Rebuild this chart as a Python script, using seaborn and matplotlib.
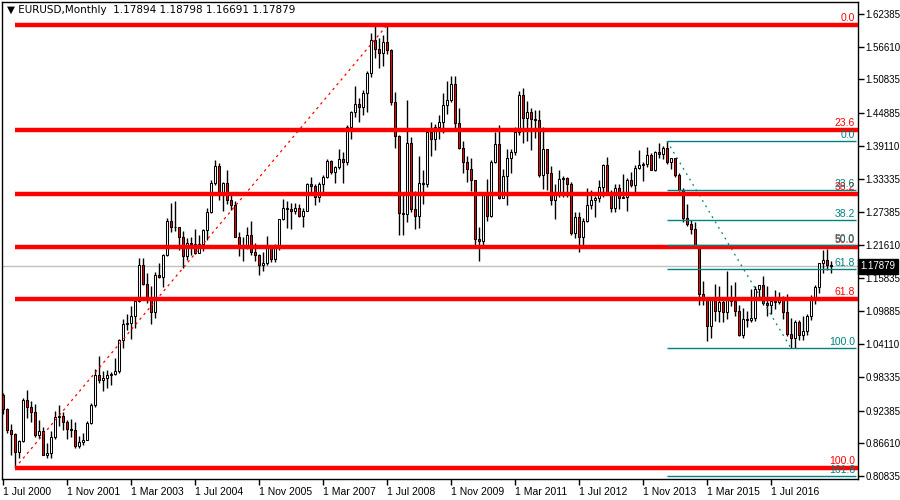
import matplotlib
matplotlib.use("Agg")
import matplotlib.pyplot as plt
import pandas as pd
import seaborn as sns

sns.set_theme(style="white")
plt.rcParams['font.family'] = ['Liberation Sans', 'DejaVu Sans']

# EURUSD monthly candles, Jul 2000 .. Oct 2017
opens = [
    0.9520, 0.9268, 0.8890, 0.8827, 0.8500, 0.8705,
    0.9420, 0.9310, 0.9210, 0.8800, 0.8870, 0.8460, 0.8490, 0.8770, 0.9120, 0.9140, 0.9030, 0.8910,
    0.8900, 0.8610, 0.8680, 0.8720, 0.9020, 0.9340, 0.9870, 0.9780, 0.9820, 0.9870, 0.9890, 0.9930,
    1.0490, 1.0760, 1.0780, 1.0910, 1.1180, 1.1800, 1.1480, 1.1230, 1.0980, 1.1640, 1.1600, 1.1990,
    1.2590, 1.2470, 1.2470, 1.2300, 1.1970, 1.2200, 1.2180, 1.2020, 1.2180, 1.2430, 1.2750, 1.3260,
    1.3560, 1.3040, 1.3250, 1.2960, 1.2870, 1.2300, 1.2100, 1.2130, 1.2340, 1.2030, 1.1990, 1.1800,
    1.1840, 1.2160, 1.1920, 1.2120, 1.2620, 1.2810, 1.2790, 1.2760, 1.2810, 1.2680, 1.2760, 1.3240,
    1.3200, 1.3010, 1.3230, 1.3360, 1.3650, 1.3450, 1.3540, 1.3680, 1.3630, 1.4250, 1.4500, 1.4650,
    1.4590, 1.4850, 1.5190, 1.5780, 1.5620, 1.5550, 1.5750, 1.5600, 1.4680, 1.4090, 1.2730, 1.2700,
    1.3970, 1.2800, 1.2680, 1.3250, 1.3230, 1.4150, 1.4030, 1.4250, 1.4330, 1.4640, 1.4720, 1.5000,
    1.4320, 1.3870, 1.3630, 1.3510, 1.3300, 1.2270, 1.2240, 1.3050, 1.2680, 1.3630, 1.3940, 1.2990,
    1.3380, 1.3690, 1.3800, 1.4160, 1.4810, 1.4400, 1.4500, 1.4390, 1.4370, 1.3390, 1.3860, 1.3440,
    1.2960, 1.3080, 1.3320, 1.3340, 1.3240, 1.2370, 1.2660, 1.2300, 1.2580, 1.2860, 1.2960, 1.2990,
    1.3190, 1.3580, 1.3050, 1.2820, 1.3170, 1.2990, 1.3010, 1.3300, 1.3220, 1.3520, 1.3580, 1.3590,
    1.3750, 1.3490, 1.3800, 1.3770, 1.3870, 1.3630, 1.3690, 1.3390, 1.3130, 1.2630, 1.2530, 1.2450,
    1.2100, 1.1290, 1.1200, 1.0730, 1.1220, 1.0990, 1.1150, 1.0980, 1.1210, 1.1180, 1.1000, 1.0570,
    1.0860, 1.0830, 1.0870, 1.1380, 1.1450, 1.1130, 1.1100, 1.1170, 1.1160, 1.1240, 1.0980, 1.0590,
    1.0520, 1.0800, 1.0580, 1.0650, 1.0900, 1.1240, 1.1420, 1.1840, 1.1900, 1.1789,
]
highs = [
    0.9545, 0.9290, 0.9000, 0.8850, 0.8725, 0.9460,
    0.9595, 0.9400, 0.9360, 0.9080, 0.8940, 0.8670, 0.8870, 0.9240, 0.9330, 0.9220, 0.9080, 0.9090,
    0.9040, 0.8790, 0.8850, 0.9050, 0.9380, 0.9970, 1.0210, 0.9930, 0.9960, 0.9920, 1.0160, 1.0500,
    1.0860, 1.0940, 1.1080, 1.1230, 1.1930, 1.1930, 1.1660, 1.1440, 1.1680, 1.1840, 1.2000, 1.2640,
    1.2900, 1.2930, 1.2480, 1.2410, 1.2280, 1.2310, 1.2450, 1.2340, 1.2440, 1.2810, 1.3300, 1.3670,
    1.3600, 1.3280, 1.3480, 1.3090, 1.2940, 1.2390, 1.2300, 1.2480, 1.2580, 1.2200, 1.2010, 1.2040,
    1.2320, 1.2160, 1.2170, 1.2620, 1.2980, 1.2940, 1.2900, 1.2910, 1.2890, 1.2810, 1.3250, 1.3370,
    1.3230, 1.3270, 1.3390, 1.3680, 1.3660, 1.3550, 1.3850, 1.3810, 1.4280, 1.4530, 1.4970, 1.4750,
    1.4900, 1.5240, 1.5910, 1.6020, 1.5820, 1.5860, 1.6040, 1.5620, 1.4860, 1.4100, 1.3080, 1.4720,
    1.4070, 1.3110, 1.3740, 1.3480, 1.4180, 1.4340, 1.4300, 1.4450, 1.4840, 1.5060, 1.5140, 1.5140,
    1.4580, 1.3990, 1.3740, 1.3690, 1.3310, 1.2470, 1.3100, 1.3330, 1.3660, 1.4160, 1.4280, 1.3500,
    1.3860, 1.3860, 1.4250, 1.4880, 1.4940, 1.4700, 1.4580, 1.4550, 1.4550, 1.4250, 1.3860, 1.3550,
    1.3230, 1.3490, 1.3380, 1.3370, 1.3280, 1.2750, 1.2750, 1.2640, 1.3170, 1.3140, 1.3030, 1.3310,
    1.3590, 1.3710, 1.3140, 1.3240, 1.3240, 1.3420, 1.3350, 1.3450, 1.3570, 1.3830, 1.3620, 1.3890,
    1.3780, 1.3820, 1.3970, 1.3900, 1.3993, 1.3700, 1.3700, 1.3440, 1.3160, 1.2890, 1.2600, 1.2570,
    1.2110, 1.1530, 1.1240, 1.1210, 1.1470, 1.1440, 1.1220, 1.1710, 1.1460, 1.1500, 1.1100, 1.1050,
    1.0990, 1.1380, 1.1440, 1.1460, 1.1620, 1.1430, 1.1190, 1.1370, 1.1330, 1.1260, 1.1300, 1.0870,
    1.0830, 1.0830, 1.0910, 1.0950, 1.1270, 1.1450, 1.1850, 1.2070, 1.2090, 1.1880,
]
lows = [
    0.9180, 0.8845, 0.8448, 0.8225, 0.8400, 0.8690,
    0.9100, 0.9030, 0.8770, 0.8760, 0.8460, 0.8400, 0.8410, 0.8740, 0.8960, 0.8900, 0.8740, 0.8780,
    0.8580, 0.8570, 0.8630, 0.8720, 0.9000, 0.9310, 0.9720, 0.9590, 0.9640, 0.9690, 0.9860, 0.9910,
    1.0340, 1.0660, 1.0500, 1.0690, 1.1150, 1.1450, 1.1140, 1.0770, 1.0880, 1.1570, 1.1420, 1.1960,
    1.2390, 1.2410, 1.2080, 1.1760, 1.1900, 1.1980, 1.2000, 1.2030, 1.2050, 1.2250, 1.2730, 1.3220,
    1.2960, 1.2760, 1.2880, 1.2770, 1.2300, 1.1970, 1.1870, 1.2090, 1.1990, 1.1880, 1.1640, 1.1710,
    1.1810, 1.1860, 1.1860, 1.2070, 1.2610, 1.2460, 1.2450, 1.2700, 1.2650, 1.2480, 1.2780, 1.3060,
    1.2860, 1.2920, 1.3070, 1.3340, 1.3410, 1.3260, 1.3510, 1.3260, 1.3580, 1.4040, 1.4420, 1.4330,
    1.4450, 1.4510, 1.5130, 1.5460, 1.5290, 1.5320, 1.5540, 1.4630, 1.3880, 1.2330, 1.2330, 1.2570,
    1.2740, 1.2450, 1.2460, 1.2880, 1.3180, 1.3740, 1.3830, 1.4040, 1.4140, 1.4480, 1.4680, 1.4220,
    1.3860, 1.3440, 1.3270, 1.3110, 1.2140, 1.1876, 1.2150, 1.2590, 1.2660, 1.3600, 1.2970, 1.3070,
    1.2870, 1.3430, 1.3750, 1.4110, 1.3970, 1.4000, 1.3840, 1.4050, 1.3360, 1.3150, 1.3140, 1.2860,
    1.2620, 1.3000, 1.3000, 1.3000, 1.2340, 1.2290, 1.2040, 1.2130, 1.2560, 1.2800, 1.2660, 1.2920,
    1.3000, 1.3040, 1.2750, 1.2740, 1.2790, 1.2990, 1.2760, 1.3180, 1.3100, 1.3500, 1.3290, 1.3540,
    1.3480, 1.3470, 1.3700, 1.3680, 1.3590, 1.3500, 1.3370, 1.3120, 1.2570, 1.2500, 1.2360, 1.2100,
    1.1100, 1.1100, 1.0460, 1.0520, 1.0820, 1.0810, 1.0810, 1.0850, 1.1090, 1.0900, 1.0560, 1.0520,
    1.0710, 1.0810, 1.0820, 1.1210, 1.1100, 1.0910, 1.0950, 1.1040, 1.1120, 1.0850, 1.0560, 1.0340,
    1.0340, 1.0490, 1.0490, 1.0570, 1.0840, 1.1120, 1.1310, 1.1660, 1.1720, 1.1669,
]
closes = [
    0.9268, 0.8890, 0.8827, 0.8500, 0.8705, 0.9420,
    0.9310, 0.9210, 0.8800, 0.8870, 0.8460, 0.8490, 0.8770, 0.9120, 0.9140, 0.9030, 0.8910, 0.8900,
    0.8610, 0.8680, 0.8720, 0.9020, 0.9340, 0.9870, 0.9780, 0.9820, 0.9870, 0.9890, 0.9930, 1.0490,
    1.0760, 1.0780, 1.0910, 1.1180, 1.1800, 1.1480, 1.1230, 1.0980, 1.1640, 1.1600, 1.1990, 1.2590,
    1.2470, 1.2470, 1.2300, 1.1970, 1.2200, 1.2180, 1.2020, 1.2180, 1.2430, 1.2750, 1.3260, 1.3560,
    1.3040, 1.3250, 1.2960, 1.2870, 1.2300, 1.2100, 1.2130, 1.2340, 1.2030, 1.1990, 1.1800, 1.1840,
    1.2160, 1.1920, 1.2120, 1.2620, 1.2810, 1.2790, 1.2760, 1.2810, 1.2680, 1.2760, 1.3240, 1.3200,
    1.3010, 1.3230, 1.3360, 1.3650, 1.3450, 1.3540, 1.3680, 1.3630, 1.4250, 1.4500, 1.4650, 1.4590,
    1.4850, 1.5190, 1.5780, 1.5620, 1.5550, 1.5750, 1.5600, 1.4680, 1.4090, 1.2730, 1.2700, 1.3970,
    1.2800, 1.2680, 1.3250, 1.3230, 1.4150, 1.4030, 1.4250, 1.4330, 1.4640, 1.4720, 1.5000, 1.4320,
    1.3870, 1.3630, 1.3510, 1.3300, 1.2270, 1.2240, 1.3050, 1.2680, 1.3630, 1.3940, 1.2990, 1.3380,
    1.3690, 1.3800, 1.4160, 1.4810, 1.4400, 1.4500, 1.4390, 1.4370, 1.3390, 1.3860, 1.3440, 1.2960,
    1.3080, 1.3320, 1.3340, 1.3240, 1.2370, 1.2660, 1.2300, 1.2580, 1.2860, 1.2960, 1.2990, 1.3190,
    1.3580, 1.3050, 1.2820, 1.3170, 1.2990, 1.3010, 1.3300, 1.3220, 1.3520, 1.3580, 1.3590, 1.3750,
    1.3490, 1.3800, 1.3770, 1.3870, 1.3630, 1.3690, 1.3390, 1.3130, 1.2630, 1.2530, 1.2450, 1.2100,
    1.1290, 1.1200, 1.0730, 1.1220, 1.0990, 1.1150, 1.0980, 1.1210, 1.1180, 1.1000, 1.0570, 1.0860,
    1.0830, 1.0870, 1.1380, 1.1450, 1.1130, 1.1100, 1.1170, 1.1160, 1.1240, 1.0980, 1.0590, 1.0520,
    1.0800, 1.0580, 1.0650, 1.0900, 1.1240, 1.1420, 1.1840, 1.1900, 1.1813, 1.1788,
]

price_ticks = [1.62385, 1.56610, 1.50835, 1.44885, 1.39110, 1.33335, 1.27385, 1.21610,
               1.15835, 1.09885, 1.04110, 0.98335, 0.92385, 0.86610, 0.80835]
date_labels = ['1 Jul 2000', '1 Nov 2001', '1 Mar 2003', '1 Jul 2004', '1 Nov 2005', '1 Mar 2007',
               '1 Jul 2008', '1 Nov 2009', '1 Mar 2011', '1 Jul 2012', '1 Nov 2013', '1 Mar 2015',
               '1 Jul 2016']
date_tick_pos = [0, 16, 32, 48, 64, 80, 96, 112, 128, 144, 160, 176, 192]

fib_levels = [0.0, 23.6, 38.2, 50.0, 61.8, 100.0]
fib2_levels = [0.0, 23.6, 38.2, 50.0, 61.8, 100.0, 161.8]
# fibo anchors: (bar index, price)
fib1_low = (3, 0.8225)
fib1_high = (96, 1.6040)
fib2_high = (166, 1.3993)
fib2_low = (197, 1.0340)
last_price = 1.17879

df = pd.DataFrame({'open': opens, 'high': highs, 'low': lows, 'close': closes})
df['date'] = pd.date_range('2000-07-01', periods=len(df), freq='MS')
df['i'] = range(len(df))
df['bull'] = df['close'] >= df['open']

fig = plt.figure(figsize=(9, 5), dpi=100)
ax = fig.add_axes([2 / 900, 21 / 500, 856 / 900, 477 / 500])
x_right = 213.75
ax.set_xlim(-0.25, x_right)
ax.set_ylim(0.8031, 1.6450)

# current price line
ax.axhline(last_price, color='#c0c0c0', lw=1, zorder=1)

# candles
ax.vlines(df['i'], df['low'], df['high'], color='black', lw=1, zorder=2)
body_lo = df[['open', 'close']].min(axis=1)
body_h = (df['close'] - df['open']).abs().clip(lower=0.0015)
ax.bar(df['i'], body_h, bottom=body_lo, width=0.68,
       color=['white' if b else '#ff0000' for b in df['bull']],
       edgecolor='black', linewidth=0.75, zorder=3)

# red fibonacci (Oct 2000 low -> Jul 2008 high)
rng1 = fib1_high[1] - fib1_low[1]
for lv in fib_levels:
    y = fib1_high[1] - rng1 * lv / 100
    ax.hlines(y, fib1_low[0], x_right, color='#ff0000', lw=3.2, zorder=5)
    ax.annotate(f'{lv:.1f}', xy=(1, y), xycoords=ax.get_yaxis_transform(),
                xytext=(-3, 2), textcoords='offset pixels', ha='right', va='bottom',
                color='#ff0000', fontsize=7.5, zorder=6)
diag1 = pd.DataFrame({'x': [fib1_low[0], fib1_high[0]], 'y': [fib1_low[1], fib1_high[1]]})
sns.lineplot(data=diag1, x='x', y='y', ax=ax, color='#ff0000', lw=0.9,
             dashes=False, linestyle=(0, (2, 3)), zorder=4)

# teal fibonacci (May 2014 high -> Dec 2016 low)
rng2 = fib2_high[1] - fib2_low[1]
for lv in fib2_levels:
    y = fib2_high[1] - rng2 * lv / 100
    ax.hlines(y, fib2_high[0], x_right - 0.5, color='#008080', lw=1, zorder=5)
    ax.annotate(f'{lv:.1f}', xy=(1, y), xycoords=ax.get_yaxis_transform(),
                xytext=(-3, 1), textcoords='offset pixels', ha='right', va='bottom',
                color='#008080', fontsize=7.5, zorder=6)
diag2 = pd.DataFrame({'x': [fib2_high[0], fib2_low[0]], 'y': [fib2_high[1], fib2_low[1]]})
sns.lineplot(data=diag2, x='x', y='y', ax=ax, color='#008080', lw=0.9,
             dashes=False, linestyle=(0, (1.5, 3.5)), zorder=4)

# axes styling
for s in ax.spines.values():
    s.set_color('black')
    s.set_linewidth(1)
ax.yaxis.tick_right()
ax.set_yticks(price_ticks)
ax.set_yticklabels([f'{p:.5f}' for p in price_ticks])
ax.set_xticks(date_tick_pos)
ax.set_xticklabels(date_labels)
for lab in ax.get_xticklabels():
    lab.set_horizontalalignment('left')
ax.tick_params(axis='both', direction='out', length=4, width=1, color='black',
               labelsize=7, labelcolor='black', pad=1.5)
ax.tick_params(axis='y', right=True, left=False)
ax.tick_params(axis='x', bottom=True, labelsize=7.5)
ax.set_xlabel('')
ax.set_ylabel('')
ax.grid(False)

# current price box
ax.text(1.003, last_price, f'{last_price:.5f}', transform=ax.get_yaxis_transform(),
        ha='left', va='center', color='white', fontsize=7,
        bbox=dict(boxstyle='square,pad=0.25', fc='black', ec='black'), clip_on=False)

fig.text(7 / 900, 1 - 10 / 500, '\u25bc EURUSD,Monthly  1.17894 1.18798 1.16691 1.17879',
         fontsize=7.5, va='center', ha='left', color='black', family=['DejaVu Sans'])

fig.savefig('out.png', dpi=100)
